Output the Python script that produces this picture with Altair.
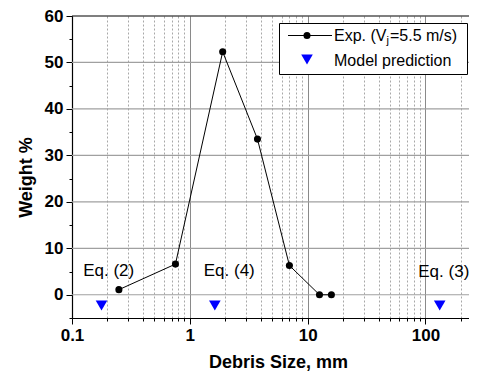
import altair as alt
import pandas as pd

# ---- data ----
exp_size = [0.25, 0.755, 1.9, 3.75, 7.0, 12.6, 15.9]
exp_weight = [1.1, 6.6, 52.3, 33.5, 6.3, 0.0, 0.0]

model_size = [0.178, 1.63, 132.0]
model_weight = [-2.3, -2.3, -2.3]

eq_labels = ["Eq. (2)", "Eq. (4)", "Eq. (3)"]
eq_x = [0.205, 2.16, 143.0]
eq_y = [5.1, 5.1, 4.8]

x_tick_values = [m * 10 ** e for e in (-1, 0, 1, 2) for m in range(1, 10)]
x_tick_values = [round(v, 6) for v in x_tick_values if v <= 234]
y_tick_values = list(range(-5, 61, 5))
y_grid_values = [0, 10, 20, 30, 40, 50]

legend_labels = ["Exp. (V", "j", "=5.5 m/s)", "Model prediction"]

exp_df = pd.DataFrame({"size": exp_size, "weight": exp_weight})
model_df = pd.DataFrame({"size": model_size, "weight": model_weight})
eq_df = pd.DataFrame({"label": eq_labels, "size": eq_x, "weight": eq_y})
grid_df = pd.DataFrame({"weight": y_grid_values})
one = pd.DataFrame({"a": [0]})

FONT = "Liberation Sans"
PW, PH = 397, 302
is_decade = "abs(log(datum.value)/LN10 - round(log(datum.value)/LN10)) < 1e-6"
y_major = "abs(datum.value/10 - round(datum.value/10)) < 1e-6"

x_scale = alt.Scale(type="log", domain=[0.1, 234], nice=False)
y_scale = alt.Scale(domain=[-5, 60], nice=False, zero=False)

x_axis = alt.Axis(
    values=x_tick_values,
    title="Debris Size, mm",
    titleFont=FONT, titleFontSize=18, titleFontWeight="bold", titleColor="black",
    titlePadding=10, titleX=206,
    labelFont=FONT, labelFontSize=17, labelFontWeight="bold", labelColor="black",
    labelExpr=f"({is_decade}) ? format(datum.value, '~g') : ''",
    labelOverlap=False, labelFlush=False, labelPadding=3,
    domainColor="black", domainWidth=1.2,
    tickColor="black", tickWidth=1,
    tickSize={"condition": {"test": is_decade, "value": 6}, "value": 3},
    grid=True,
    gridColor={"condition": {"test": is_decade, "value": "#8a8a8a"}, "value": "#a8a8a8"},
    gridDash={"condition": {"test": is_decade, "value": []}, "value": [2, 2]},
    gridWidth=1,
)

y_axis = alt.Axis(
    values=y_tick_values,
    title="Weight %",
    titleFont=FONT, titleFontSize=18, titleFontWeight="bold", titleColor="black",
    titlePadding=9, titleY=161,
    labelFont=FONT, labelFontSize=17, labelFontWeight="bold", labelColor="black",
    labelExpr=f"({y_major}) ? format(datum.value, 'd') : ''",
    labelOverlap=False, labelFlush=False, labelPadding=3,
    domainColor="black", domainWidth=1.2,
    tickColor="black", tickWidth=1,
    tickSize={"condition": {"test": y_major, "value": 6}, "value": 3},
    grid=False,
)

X = alt.X("size:Q", scale=x_scale, axis=x_axis)
Y = alt.Y("weight:Q", scale=y_scale, axis=y_axis)

hgrid = alt.Chart(grid_df).mark_rule(color="#a0a0a0", strokeWidth=1.2).encode(
    y=alt.Y("weight:Q", scale=y_scale, axis=y_axis)
)
top_border = alt.Chart(one).mark_rule(color="black", strokeWidth=1.2).encode(
    x=alt.value(0), x2=alt.value(PW), y=alt.value(0)
)
line = alt.Chart(exp_df).mark_line(color="black", strokeWidth=1).encode(x=X, y=Y)
dots = alt.Chart(exp_df).mark_point(filled=True, color="black", size=50, opacity=1).encode(x=X, y=Y)
tri = alt.Chart(model_df).mark_point(
    shape="triangle-down", filled=True, color="#0000ff", size=135, opacity=1
).encode(x=X, y=Y)
eqs = alt.Chart(eq_df).mark_text(font=FONT, fontSize=17, color="black", baseline="middle", align="center").encode(
    x=alt.X("size:Q", scale=x_scale, axis=x_axis), y=alt.Y("weight:Q", scale=y_scale, axis=y_axis), text="label:N"
)

# ---- custom legend (pixel positions inside plot area) ----
leg_box = alt.Chart(one).mark_rect(fill="white", stroke="black", strokeWidth=1).encode(
    x=alt.value(207.5), x2=alt.value(395.5), y=alt.value(7.5), y2=alt.value(58.5)
)
leg_line = alt.Chart(one).mark_rule(color="black", strokeWidth=1).encode(
    x=alt.value(216), x2=alt.value(260), y=alt.value(19.5)
)
leg_dot = alt.Chart(one).mark_point(filled=True, color="black", size=50, opacity=1).encode(
    x=alt.value(235), y=alt.value(19.5)
)
leg_tri = alt.Chart(one).mark_point(shape="triangle-down", filled=True, color="#0000ff", size=135, opacity=1).encode(
    x=alt.value(235), y=alt.value(43.5)
)
leg_t1 = alt.Chart(one).mark_text(font=FONT, fontSize=16, align="left", baseline="middle", color="black",
                                  text=legend_labels[0]).encode(x=alt.value(262), y=alt.value(20))
leg_t2 = alt.Chart(one).mark_text(font=FONT, fontSize=11, align="left", baseline="middle", color="black",
                                  text=legend_labels[1]).encode(x=alt.value(314.5), y=alt.value(25))
leg_t3 = alt.Chart(one).mark_text(font=FONT, fontSize=16, align="left", baseline="middle", color="black",
                                  text=legend_labels[2]).encode(x=alt.value(318), y=alt.value(20))
leg_t4 = alt.Chart(one).mark_text(font=FONT, fontSize=16, align="left", baseline="middle", color="black",
                                  text=legend_labels[3]).encode(x=alt.value(262), y=alt.value(45))

chart = alt.layer(
    hgrid, top_border, line, dots, tri, eqs,
    leg_box, leg_line, leg_dot, leg_tri, leg_t1, leg_t2, leg_t3, leg_t4
).properties(
    width=PW, height=PH,
    autosize=alt.AutoSizeParams(type="none"),
    padding={"left": 64, "top": 8, "right": 0, "bottom": 54},
    background="white",
).configure_view(strokeWidth=0)

chart.save("out.html", embed_options={"renderer": "svg", "actions": False})
